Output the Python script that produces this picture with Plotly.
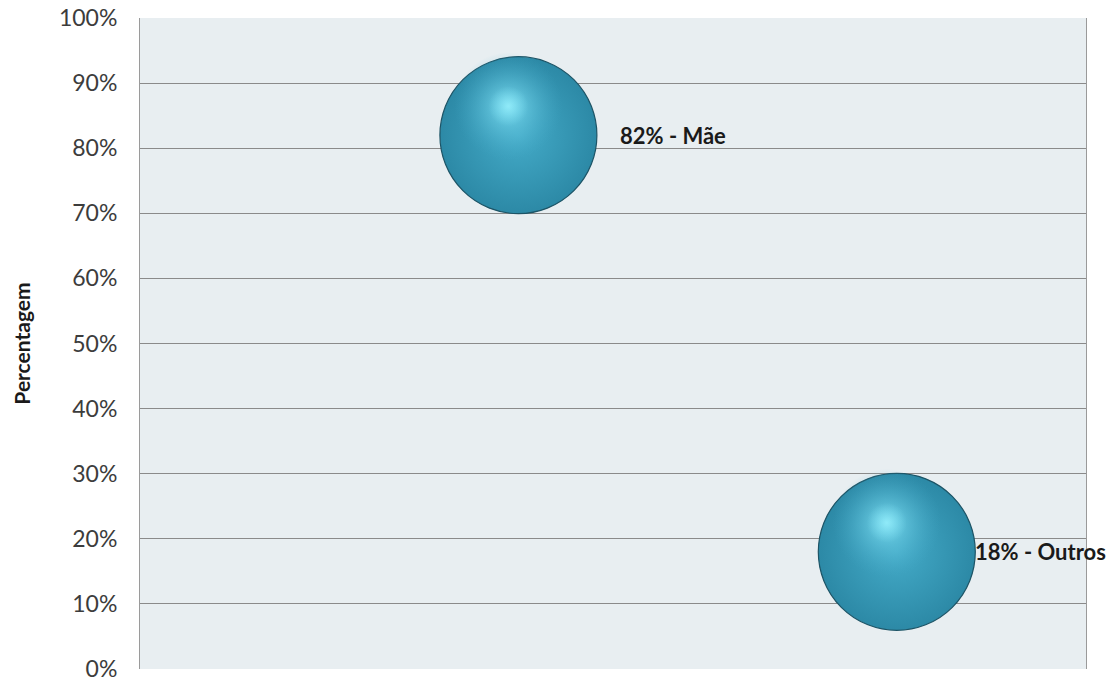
import plotly.graph_objects as go

# Who the child lives with / cares for the child
categories = ["Mãe", "Outros"]
x_pos = [1, 2]
shares = [0.82, 0.18]
tick_vals = [i / 10 for i in range(11)]

W, H = 1111, 683
M = dict(l=140, r=25, t=18, b=14)
X_RANGE = [0, 2.5]
Y_RANGE = [0, 1]
plot_w = W - M["l"] - M["r"]
plot_h = H - M["t"] - M["b"]
px_x = (X_RANGE[1] - X_RANGE[0]) / plot_w
px_y = (Y_RANGE[1] - Y_RANGE[0]) / plot_h

BUBBLE = 157
FONT = "Lato, 'Open Sans', sans-serif"

fig = go.Figure()

# sphere body: mid teal, slightly darker towards the rim
fig.add_trace(go.Scatter(
    x=x_pos, y=shares, mode="markers", hoverinfo="skip", showlegend=False,
    marker=dict(size=BUBBLE, color="#2c89a6",
                gradient=dict(type="radial", color="#44abc8"),
                line=dict(width=1.2, color="#1d5466")),
))

# soft specular glow, shifted up and left of each sphere's centre
glow_dx, glow_dy = -10, -29
fig.add_trace(go.Scatter(
    x=[v + glow_dx * px_x for v in x_pos],
    y=[v - glow_dy * px_y for v in shares],
    mode="markers", hoverinfo="skip", showlegend=False,
    marker=dict(size=108, color="rgba(70,170,200,0)",
                gradient=dict(type="radial", color="rgba(135,232,250,0.85)"),
                line=dict(width=0)),
))
fig.add_trace(go.Scatter(
    x=[v + glow_dx * px_x for v in x_pos],
    y=[v - glow_dy * px_y for v in shares],
    mode="markers", hoverinfo="skip", showlegend=False,
    marker=dict(size=40, color="rgba(140,238,255,0)",
                gradient=dict(type="radial", color="rgba(160,245,255,0.55)"),
                line=dict(width=0)),
))

# data labels to the right of each sphere
label_shift = [100, 76]
for xv, yv, cat, sh in zip(x_pos, shares, categories, label_shift):
    fig.add_annotation(
        x=xv, y=yv, xref="x", yref="y", xanchor="left", yanchor="middle",
        xshift=sh, showarrow=False,
        text=f"<b>{round(yv * 100)}% - {cat}</b>",
        font=dict(family=FONT, size=22, color="#1a1a1a"),
    )

fig.update_layout(
    width=W, height=H, margin=M,
    paper_bgcolor="white", plot_bgcolor="#e8eef1",
    showlegend=False,
    xaxis=dict(range=X_RANGE, visible=False, fixedrange=True,
               automargin=False),
    yaxis=dict(
        range=Y_RANGE, tickvals=tick_vals, tickformat=".0%",
        automargin=False,
        showgrid=True, gridcolor="#8a8a8a", gridwidth=1,
        showline=True, linecolor="#9a9a9a", linewidth=1, mirror=True,
        zeroline=False, ticks="", ticklabelstandoff=17,
        ticklabeloverflow="allow",
        tickfont=dict(family=FONT, size=23, color="#3c3c3c"),
        title=dict(text="<b>Percentagem</b>", standoff=22,
                   font=dict(family=FONT, size=21, color="#1a1a1a")),
    ),
)

fig.write_html("out.html")
